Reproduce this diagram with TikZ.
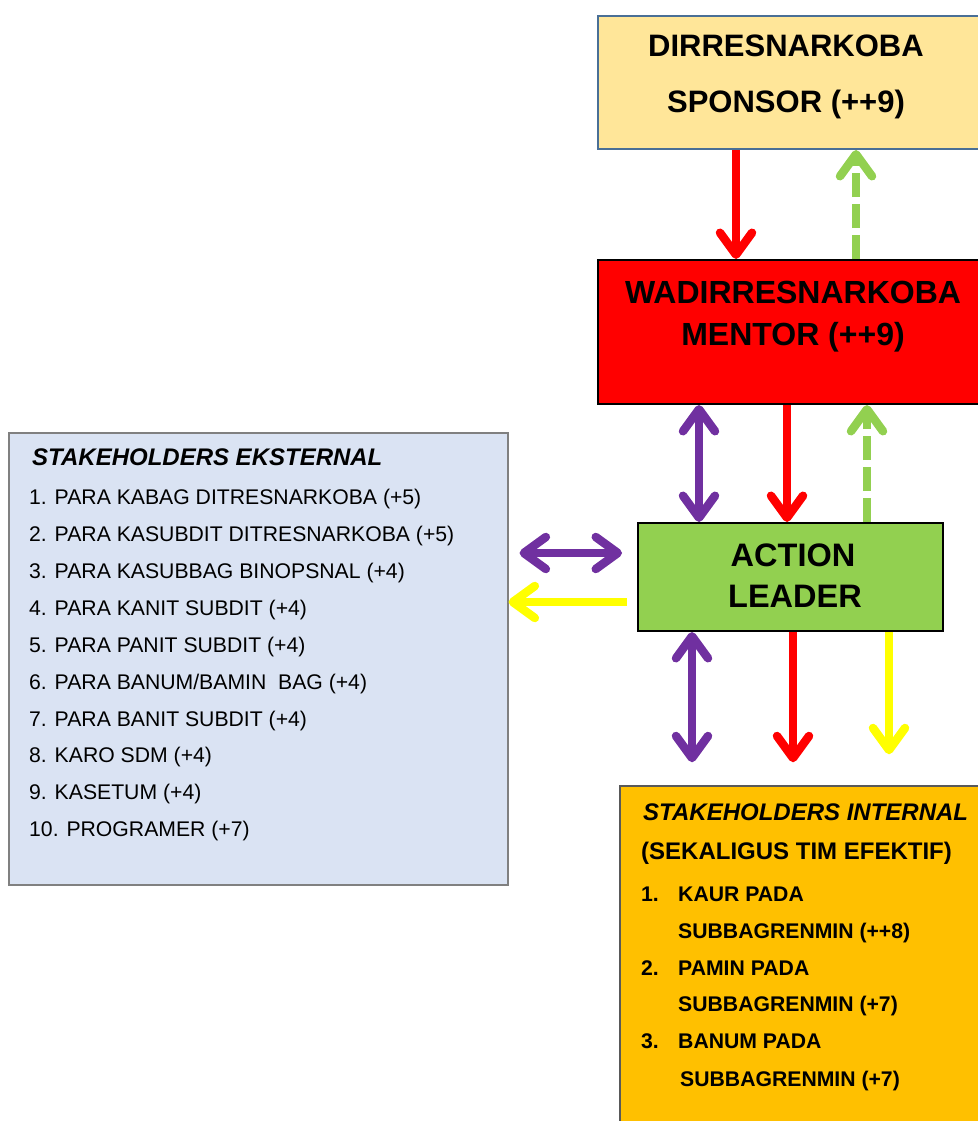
\documentclass[tikz,border=0pt]{standalone}
\usepackage{fontspec}
\setmainfont{Liberation Sans}
\usetikzlibrary{arrows.meta, calc}

\definecolor{spfill}{HTML}{FFE699}
\definecolor{spline}{HTML}{4A6F96}
\definecolor{ekfill}{HTML}{DAE3F3}
\definecolor{infill}{HTML}{FFC000}
\definecolor{acgreen}{HTML}{92D050}
\definecolor{ungu}{HTML}{7030A0}
\definecolor{merah}{HTML}{FF0000}
\definecolor{kuning}{HTML}{FFFF00}

\begin{document}
\begin{tikzpicture}[x=1pt, y=-1pt,
    >={Straight Barb[round, length=22pt, width=32pt]},
    box/.style={draw, line width=2pt, inner sep=0pt},
    arr/.style={line width=8.5pt},
    dsh/.style={arr, dash pattern=on 24pt off 7pt},
    big/.style={font=\fontsize{31}{36}\selectfont\bfseries, inner sep=0pt, anchor=base},
    bigger/.style={big, font=\fontsize{32.5}{38}\selectfont\bfseries},
    hd/.style={font=\fontsize{24}{28}\selectfont\bfseries\itshape, inner sep=0pt, anchor=base west},
    lst/.style={font=\fontsize{21.2}{25}\selectfont, inner sep=0pt, anchor=base west},
    blst/.style={lst, font=\fontsize{21.2}{25}\selectfont\bfseries}]
    \useasboundingbox (0,0) rectangle (977,1121);

    \node[box, draw=spline, fill=spfill, minimum width=382pt, minimum height=133pt] (sp) at (789,82.5) {};
    \node[box, fill=merah, minimum width=382pt, minimum height=144pt] (mt) at (789,332) {};
    \node[box, fill=acgreen, minimum width=305pt, minimum height=108pt] (ac) at (790.5,577) {};
    \node[box, line width=1.2pt, draw=black!50, fill=ekfill, minimum width=499pt, minimum height=452pt] (ek) at (258.5,659) {};
    \node[box, line width=1.5pt, draw=black!65, fill=infill, minimum width=360pt, minimum height=339pt] (in) at (800,955.5) {};

    \node[big] (sp1) at (786,57) {DIRRESNARKOBA};
    \node[big] (sp2) at (786,113) {SPONSOR (++9)};
    \node[big, font=\fontsize{32}{38}\selectfont\bfseries] (mt1) at (793,303) {WADIRRESNARKOBA};
    \node[big, font=\fontsize{32}{38}\selectfont\bfseries] (mt2) at (793,345) {MENTOR (++9)};
    \node[bigger] (ac1) at (793,566) {ACTION};
    \node[bigger] (ac2) at (795,607) {LEADER};

    \node[hd] (ekh) at (32,465) {STAKEHOLDERS EKSTERNAL};
    \foreach \t [count=\i] in {{1. PARA KABAG DITRESNARKOBA (+5)}, {2. PARA KASUBDIT DITRESNARKOBA (+5)},
        {3. PARA KASUBBAG BINOPSNAL (+4)}, {4. PARA KANIT SUBDIT (+4)}, {5. PARA PANIT SUBDIT (+4)},
        {6. PARA BANUM/BAMIN\ \ BAG (+4)}, {7. PARA BANIT SUBDIT (+4)}, {8. KARO SDM (+4)},
        {9. KASETUM (+4)}, {10. PROGRAMER (+7)}}
        \node[lst] (ek\i) at (29,468.1+36.86*\i) {\t};

    \node[hd] (inh) at (643,820) {STAKEHOLDERS INTERNAL};
    \node[blst, font=\fontsize{24}{28}\selectfont\bfseries] (ins) at (641,859) {(SEKALIGUS TIM EFEKTIF)};
    \node[blst] (n1) at (641,901.5) {1.};
    \node[blst] (in1a) at (678,901.5) {KAUR PADA};
    \node[blst] (in1b) at (678,938) {SUBBAGRENMIN (++8)};
    \node[blst] (n2) at (641,975) {2.};
    \node[blst] (in2a) at (678,975) {PAMIN PADA};
    \node[blst] (in2b) at (678,1011.5) {SUBBAGRENMIN (+7)};
    \node[blst] (n3) at (641,1048) {3.};
    \node[blst] (in3a) at (678,1048) {BANUM PADA};
    \node[blst] (in3b) at (680,1086.5) {SUBBAGRENMIN (+7)};

    \coordinate (xa) at (736,0);
    \coordinate (xb) at (856,0);
    \coordinate (xc) at (699,0);
    \coordinate (xd) at (787,0);
    \coordinate (xe) at (867,0);
    \coordinate (xf) at (692,0);
    \coordinate (xg) at (793,0);
    \coordinate (xh) at (889,0);
    \coordinate (ya) at (0,553);
    \coordinate (yb) at (0,602);

    \draw[arr, merah, ->] (xa |- sp.south) -- (xa |- mt.north);
    \draw[dsh, acgreen, ->] (xb |- mt.north) -- (xb |- sp.south);
    \draw[arr, ungu, <->] (xc |- mt.south) -- (xc |- ac.north);
    \draw[arr, merah, ->] (xd |- mt.south) -- (xd |- ac.north);
    \draw[dsh, acgreen, ->] (xe |- ac.north) -- (xe |- mt.south);
    \draw[arr, ungu, <->, shorten <=11pt, shorten >=15pt] (ek.east |- ya) -- (ac.west |- ya);
    \draw[arr, kuning, ->, shorten <=10pt] (ac.west |- yb) -- (ek.east |- yb);
    \draw[arr, ungu, <->, shorten >=23pt] (xf |- ac.south) -- (xf |- in.north);
    \draw[arr, merah, ->, shorten >=23pt] (xg |- ac.south) -- (xg |- in.north);
    \draw[arr, kuning, ->, shorten >=31pt] (xh |- ac.south) -- (xh |- in.north);
\end{tikzpicture}
\end{document}
